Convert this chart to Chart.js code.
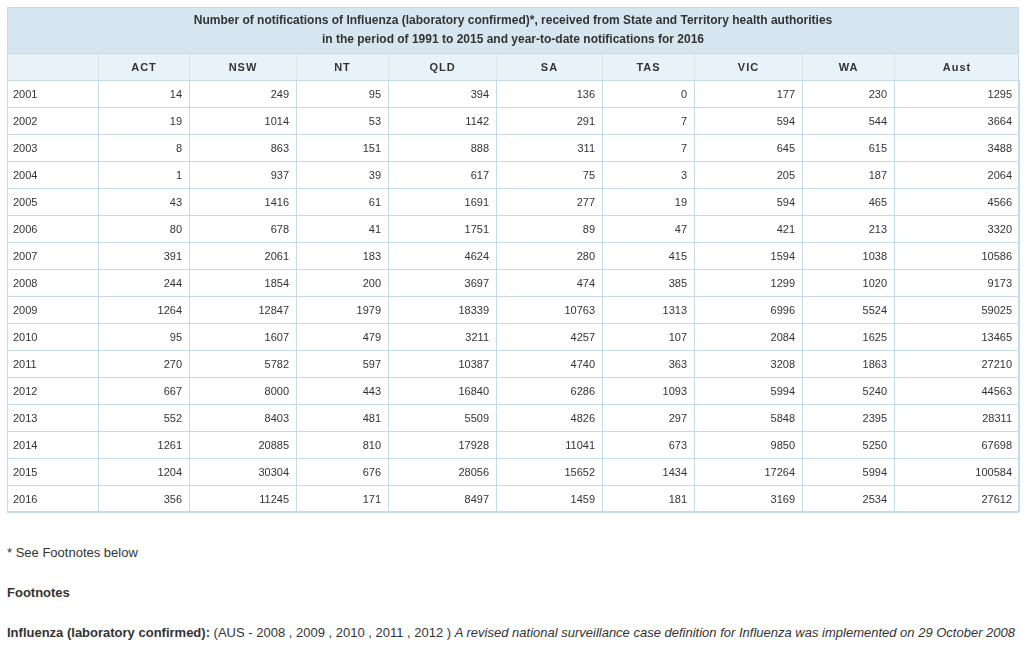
<!DOCTYPE html>
<html>
<head>
<meta charset="utf-8">
<script src="https://cdn.jsdelivr.net/npm/chart.js@4.4.1/dist/chart.umd.min.js"></script>
<style>
  body { margin: 0; background: #fff; color: #333; font-family: Arial, "Liberation Sans", sans-serif; }
  #wrap { position: relative; width: 1029px; height: 520px; }
  .note { position: absolute; left: 7px; font-size: 13px; line-height: 16px; white-space: nowrap; }
</style>
</head>
<body>
<div id="wrap"><canvas id="tbl"></canvas></div>
<div class="note" style="top:545px">* See Footnotes below</div>
<div class="note" style="top:585px"><b>Footnotes</b></div>
<div class="note" style="top:625px"><b>Influenza (laboratory confirmed):</b> (AUS - 2008 , 2009 , 2010 , 2011 , 2012 ) <i>A revised national surveillance case definition for Influenza was implemented on 29 October 2008</i></div>

<script>
const titleLines = [
  'Number of notifications of Influenza (laboratory confirmed)*, received from State and Territory health authorities',
  'in the period of 1991 to 2015 and year-to-date notifications for 2016'
];
const years = ['2001', '2002', '2003', '2004', '2005', '2006', '2007', '2008',
  '2009', '2010', '2011', '2012', '2013', '2014', '2015', '2016'];
const regions = ['ACT', 'NSW', 'NT', 'QLD', 'SA', 'TAS', 'VIC', 'WA', 'Aust'];

const act  = [14, 19, 8, 1, 43, 80, 391, 244, 1264, 95, 270, 667, 552, 1261, 1204, 356];
const nsw  = [249, 1014, 863, 937, 1416, 678, 2061, 1854, 12847, 1607, 5782, 8000, 8403, 20885, 30304, 11245];
const nt   = [95, 53, 151, 39, 61, 41, 183, 200, 1979, 479, 597, 443, 481, 810, 676, 171];
const qld  = [394, 1142, 888, 617, 1691, 1751, 4624, 3697, 18339, 3211, 10387, 16840, 5509, 17928, 28056, 8497];
const sa   = [136, 291, 311, 75, 277, 89, 280, 474, 10763, 4257, 4740, 6286, 4826, 11041, 15652, 1459];
const tas  = [0, 7, 7, 3, 19, 47, 415, 385, 1313, 107, 363, 1093, 297, 673, 1434, 181];
const vic  = [177, 594, 645, 205, 594, 421, 1594, 1299, 6996, 2084, 3208, 5994, 5848, 9850, 17264, 3169];
const wa   = [230, 544, 615, 187, 465, 213, 1038, 1020, 5524, 1625, 1863, 5240, 2395, 5250, 5994, 2534];
const aust = [1295, 3664, 3488, 2064, 4566, 3320, 10586, 9173, 59025, 13465, 27210, 44563, 28311, 67698, 100584, 27612];

const columns = [act, nsw, nt, qld, sa, tas, vic, wa, aust];

// layout: widths of the year column then each region column (px)
const colWidths = [91, 91, 107, 92, 108, 106, 92, 108, 92, 125];
const edges = [0];
colWidths.forEach(w => edges.push(edges[edges.length - 1] + w));

const BORDER = '#c4dbeb';
const TEXT = '#333333';
const FONT = 'Arial, "Liberation Sans", sans-serif';

const tablePlugin = {
  id: 'tablePlugin',
  beforeDraw(chart) {
    const { ctx, chartArea } = chart;
    const xs = chart.scales.x;
    const left = chartArea.left, right = chartArea.right;
    ctx.save();
    // title band
    ctx.fillStyle = '#d6e6f0';
    ctx.fillRect(left, 7, right - left, 46);
    ctx.strokeStyle = BORDER;
    ctx.lineWidth = 1;
    ctx.strokeRect(left + 0.5, 7.5, right - left - 1, 46);
    // header band
    ctx.fillStyle = '#e8f3f9';
    ctx.fillRect(left, 54, right - left, chartArea.top - 54);
    ctx.strokeStyle = '#dde3e7';
    edges.slice(1, -1).forEach(v => {
      const px = Math.round(xs.getPixelForValue(v)) + 0.5;
      ctx.beginPath();
      ctx.moveTo(px, 54);
      ctx.lineTo(px, chartArea.top);
      ctx.stroke();
    });
    ctx.strokeStyle = BORDER;
    ctx.beginPath();
    ctx.moveTo(left + 0.5, 53);
    ctx.lineTo(left + 0.5, chartArea.top);
    ctx.moveTo(right - 0.5, 53);
    ctx.lineTo(right - 0.5, chartArea.top);
    ctx.stroke();
    ctx.restore();
  },
  afterDraw(chart) {
    const { ctx, chartArea } = chart;
    const xs = chart.scales.x, ys = chart.scales.y;
    ctx.save();
    ctx.fillStyle = TEXT;
    ctx.textBaseline = 'middle';
    // title
    ctx.font = 'bold 12px ' + FONT;
    ctx.textAlign = 'center';
    const cx = (chartArea.left + chartArea.right) / 2;
    ctx.fillText(titleLines[0], cx, 21);
    ctx.fillText(titleLines[1], cx, 40);
    // column headers
    ctx.font = 'bold 11px ' + FONT;
    ctx.letterSpacing = '1px';
    regions.forEach((r, j) => {
      const x0 = xs.getPixelForValue(edges[j + 1]);
      const x1 = xs.getPixelForValue(edges[j + 2]);
      ctx.fillText(r, (x0 + x1) / 2 + 0.5, (53 + chartArea.top) / 2 + 1);
    });
    ctx.letterSpacing = '0px';
    // year labels
    ctx.font = '11px ' + FONT;
    ctx.textAlign = 'left';
    years.forEach((yr, i) => {
      ctx.fillText(yr, xs.getPixelForValue(edges[0]) + 6, ys.getPixelForValue(i) + 1.5);
    });
    // cell values
    ctx.textAlign = 'right';
    columns.forEach((vals, j) => {
      const xr = xs.getPixelForValue(edges[j + 2]) - 7;
      vals.forEach((v, i) => {
        ctx.fillText(String(v), xr, ys.getPixelForValue(i) + 1.5);
      });
    });
    // outer frame
    ctx.strokeStyle = BORDER;
    ctx.strokeRect(chartArea.left + 0.5, chartArea.top + 0.5,
      chartArea.right - chartArea.left - 1, chartArea.bottom - chartArea.top - 1);
    ctx.restore();
  }
};

new Chart(document.getElementById('tbl'), {
  type: 'scatter',
  data: { datasets: [] },
  options: {
    responsive: true,
    maintainAspectRatio: false,
    animation: false,
    events: [],
    layout: { padding: { left: 7, right: 10, top: 80, bottom: 8 } },
    plugins: { legend: { display: false }, tooltip: { enabled: false } },
    scales: {
      x: {
        type: 'linear',
        min: 0,
        max: edges[edges.length - 1],
        afterBuildTicks: (scale) => {
          scale.ticks = edges.map(v => ({ value: v }));
        },
        ticks: { display: false },
        grid: { color: BORDER, drawTicks: false },
        border: { display: false }
      },
      y: {
        type: 'category',
        labels: years,
        offset: true,
        ticks: { display: false },
        grid: { color: BORDER, drawTicks: false, offset: true },
        border: { display: false }
      }
    }
  },
  plugins: [tablePlugin]
});
</script>
</body>
</html>
